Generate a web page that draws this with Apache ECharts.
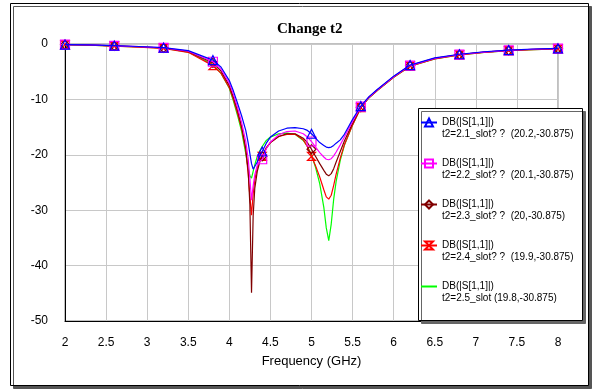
<!DOCTYPE html>
<html>
<head>
<meta charset="utf-8">
<title>Change t2</title>
<style>
  body { margin: 0; background: #fff; }
  #chart { width: 594px; height: 389px; }
</style>
</head>
<body>
<div id="chart"></div>
<script src="https://cdn.jsdelivr.net/npm/echarts@6/dist/echarts.min.js"></script>
<script>
// frequency points (GHz) shared by every curve
const freq = [2.0, 2.3, 2.6, 2.9, 3.2, 3.5, 3.8, 3.9, 4.0, 4.05, 4.1, 4.15, 4.2, 4.23, 4.25, 4.27, 4.29, 4.31, 4.34, 4.37,
  4.4, 4.45, 4.5, 4.6, 4.7, 4.8, 4.9, 4.95, 5.0, 5.05, 5.1, 5.15, 5.18, 5.21, 5.24, 5.27, 5.3, 5.35, 5.4, 5.5,
  5.6, 5.7, 5.8, 6.0, 6.2, 6.5, 6.8, 7.1, 7.4, 7.7, 8.0];
// where the simulator put its markers
const markerFreq = [2.0, 2.6, 3.2, 3.8, 4.4, 5.0, 5.6, 6.2, 6.8, 7.4, 8.0];

// DB(|S[1,1]|) for each t2
const dbT21 = [-0.1, -0.15, -0.3, -0.45, -0.65, -1.2, -2.9, -4.2, -6.6, -8.5, -10.7, -13.0, -15.6, -17.9, -19.8, -21.6, -22.6, -22.5, -21.3, -20.2,
  -19.4, -17.9, -16.8, -15.7, -15.2, -15.1, -15.3, -15.6, -16.2, -17.0, -17.8, -18.3, -18.6, -18.7, -18.6, -18.3, -17.9, -17.3, -16.3, -13.6,
  -11.2, -9.5, -8.2, -5.8, -3.8, -2.5, -1.85, -1.4, -1.1, -0.9, -0.8];
const dbT22 = [-0.1, -0.17, -0.33, -0.48, -0.7, -1.3, -3.2, -4.6, -7.1, -9.1, -11.5, -14.2, -17.6, -20.8, -24.3, -28.2, -25.6, -23.6, -21.9, -21.2,
  -20.8, -18.9, -17.7, -16.4, -15.8, -15.7, -16.2, -16.8, -17.6, -18.6, -19.6, -20.4, -20.8, -20.9, -20.7, -20.2, -19.5, -18.2, -16.8, -14.0,
  -11.3, -9.6, -8.3, -5.9, -3.9, -2.6, -1.9, -1.45, -1.15, -0.95, -0.85];
const dbT23 = [-0.1, -0.18, -0.35, -0.5, -0.72, -1.35, -3.4, -4.9, -7.5, -9.6, -12.0, -14.9, -18.8, -23.0, -29.0, -44.9, -31.0, -26.0, -23.0, -21.3,
  -20.3, -18.8, -17.8, -16.7, -16.2, -16.2, -17.0, -17.8, -19.0, -20.3, -21.6, -22.8, -23.5, -23.8, -23.4, -22.5, -21.3, -19.4, -17.5, -14.3,
  -11.4, -9.6, -8.3, -5.9, -3.9, -2.6, -1.9, -1.45, -1.15, -0.95, -0.85];
const dbT24 = [-0.1, -0.2, -0.4, -0.55, -0.8, -1.5, -3.9, -5.3, -7.9, -10.0, -12.5, -15.3, -19.2, -23.5, -27.5, -30.9, -27.0, -24.5, -22.3, -21.1,
  -20.3, -18.7, -17.8, -16.7, -16.3, -16.3, -17.3, -18.5, -20.3, -22.0, -24.0, -26.3, -27.6, -28.0, -27.3, -25.5, -23.5, -20.6, -18.2, -14.6,
  -11.5, -9.7, -8.4, -6.0, -4.0, -2.7, -1.95, -1.5, -1.2, -1.0, -0.9];
const dbT25 = [-0.1, -0.2, -0.38, -0.52, -0.76, -1.45, -3.7, -5.3, -8.0, -10.3, -12.9, -15.8, -19.8, -22.5, -23.8, -24.2, -23.0, -21.8, -20.3, -19.3,
  -18.5, -17.4, -16.8, -16.2, -16.1, -16.3, -17.4, -18.5, -20.0, -22.3, -25.2, -29.5, -33.2, -35.5, -32.5, -28.0, -24.8, -21.0, -18.3, -14.6,
  -11.5, -9.7, -8.4, -6.0, -4.0, -2.7, -1.95, -1.5, -1.2, -1.0, -0.9];

const names = ['t2=2.1_slot? ?  (20.2,-30.875)', 't2=2.2_slot? ?  (20.1,-30.875)', 't2=2.3_slot? ?  (20,-30.875)',
  't2=2.4_slot? ?  (19.9,-30.875)', 't2=2.5_slot (19.8,-30.875)'];
const colors = ['#0000ff', '#ff00ff', '#800000', '#ff0000', '#00ff00'];
const symbols = ['triangle', 'rect', 'diamond', 'path://M0,0L10,0L0,10L10,10Z', 'none'];
const symbolSizes = [9, 9, 9, 8, 0];
const values = [dbT21, dbT22, dbT23, dbT24, dbT25];

function toData(vals) {
  return freq.map((f, i) => {
    const marked = markerFreq.some(m => Math.abs(m - f) < 1e-6);
    return marked ? [f, vals[i]] : { value: [f, vals[i]], symbol: 'none' };
  });
}

const series = values.map((vals, k) => ({
  name: names[k],
  type: 'line',
  data: toData(vals),
  symbol: symbols[k],
  symbolSize: symbolSizes[k],
  showAllSymbol: true,
  z: 10 - k,
  lineStyle: { color: colors[k], width: 1.2 },
  itemStyle: { color: 'rgba(0,0,0,0)', borderColor: colors[k], borderWidth: 1.2 },
  emphasis: { disabled: true },
  animation: false
}));

// green curve has no marker, so its legend entry is just the line
const legendData = names.map((n, k) => symbols[k] === 'none' ? { name: n, itemStyle: { opacity: 0 } } : n);

const chart = echarts.init(document.getElementById('chart'));
chart.setOption({
  animation: false,
  title: {
    text: 'Change t2',
    left: 277, top: 22, padding: 0,
    textStyle: { fontFamily: 'Liberation Serif', fontWeight: 'bold', fontSize: 15, color: '#000' }
  },
  graphic: [
    {
      type: 'rect', z: -10,
      shape: { x: 10.5, y: 3.5, width: 578, height: 382 },
      style: { fill: '#fff', stroke: '#000', lineWidth: 1, shadowColor: '#555', shadowOffsetX: 3, shadowOffsetY: 3, shadowBlur: 0 }
    },
    {
      type: 'rect', z: 3,
      shape: { x: 418.5, y: 108.5, width: 164, height: 212 },
      style: { fill: '#fff', stroke: '#000', lineWidth: 1, shadowColor: '#666', shadowOffsetX: 3, shadowOffsetY: 3, shadowBlur: 0 }
    }
  ],
  legend: {
    orient: 'vertical',
    left: 420, top: 106, padding: 0,
    itemWidth: 16, itemHeight: 10, itemGap: 8,
    selectedMode: false,
    z: 5,
    data: legendData,
    formatter: name => '{e| }\n{a|DB(|S[1,1]|)}\n{b|' + name + '}',
    textStyle: {
      fontFamily: 'Arial', fontSize: 10, color: '#000',
      rich: {
        e: { fontSize: 10, lineHeight: 11 },
        a: { fontSize: 10, lineHeight: 12, fontFamily: 'Arial', color: '#000' },
        b: { fontSize: 10, lineHeight: 11, fontFamily: 'Arial', color: '#000' }
      }
    }
  },
  grid: { left: 65, right: 36, top: 44, bottom: 68, show: true, borderColor: '#808080', borderWidth: 1 },
  xAxis: {
    type: 'value', min: 2, max: 8, interval: 0.5,
    name: 'Frequency (GHz)', nameLocation: 'middle', nameGap: 34,
    nameTextStyle: { fontFamily: 'Arial', fontSize: 13, color: '#000' },
    axisLine: { onZero: false, lineStyle: { color: '#000', width: 1 } },
    axisTick: { show: false },
    axisLabel: { margin: 16, fontFamily: 'Arial', fontSize: 12, color: '#000' },
    splitLine: { lineStyle: { color: '#c8c8c8', width: 1 } }
  },
  yAxis: {
    type: 'value', min: -50, max: 0, interval: 10,
    axisLine: { show: true, lineStyle: { color: '#000', width: 1 } },
    axisTick: { show: false },
    axisLabel: { margin: 17, fontFamily: 'Arial', fontSize: 12, color: '#000' },
    splitLine: { lineStyle: { color: '#c8c8c8', width: 1 } }
  },
  series: series
});
</script>
</body>
</html>
